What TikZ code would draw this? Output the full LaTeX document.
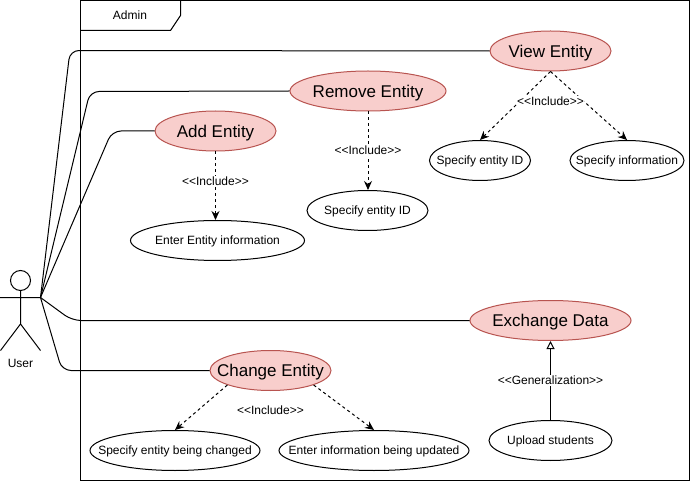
\documentclass[tikz,border=0pt]{standalone}
\usepackage{fontspec}
\setmainfont{Liberation Sans}
\usetikzlibrary{shapes.geometric,arrows.meta}
\newcommand{\tightlabel}[1]{\makebox[0pt]{#1}}
\newcommand{\gopen}{<\kern0pt<}
\newcommand{\gclose}{>\kern0pt>}
\tikzset{
  uc/.style={ellipse,draw=black,fill=white,line width=1pt,minimum height=40pt,inner sep=0pt,font=\fontsize{12}{14}\selectfont,text height=8.8pt,text depth=0pt},
  ucmain/.style={ellipse,draw=ucred,fill=ucpink,line width=1pt,minimum height=40pt,inner sep=0pt,font=\fontsize{17}{20}\selectfont,text height=12.2pt,text depth=0pt},
  assoc/.style={draw=black,line width=1pt,rounded corners=9pt},
  incl/.style={draw=black,line width=1pt,dash pattern=on 3pt off 3pt,-{Stealth[length=9pt,width=8pt,inset=3pt]}},
  gener/.style={draw=black,line width=1pt,-{Triangle[open,length=8pt,width=8pt,fill=white]}},
  lbl/.style={font=\fontsize{12}{14}\selectfont,inner xsep=0.5pt,inner ysep=1.5pt,fill=white,text height=8.8pt,text depth=0pt},
  plain/.style={font=\fontsize{12}{14}\selectfont,inner sep=0pt,text height=8.8pt,text depth=0pt},
  solid1/.style={draw=black,line width=1pt},
}
\definecolor{ucred}{HTML}{B85450}
\definecolor{ucpink}{HTML}{F8CECC}
\begin{document}
\begin{tikzpicture}[x=1pt,y=-1pt]
\useasboundingbox (0,0) rectangle (691,481);
% frame
\draw[solid1] (80.5,0.5) rectangle (689.5,480.5);
\draw[solid1] (80.5,30.5) -- (170.5,30.5) -- (180.5,15.5) -- (180.5,0.5);
\node[plain] (admin) at (130,15.5) {Admin};
% actor
\draw[solid1] (20.5,280.5) circle (10);
\draw[solid1] (20.5,290.5) -- (20.5,324) (0,297.5) -- (40.5,297.5)
  (0.5,350.5) -- (20.5,324) -- (40.5,350.5);
\node[plain] (user) at (20.5,363.5) {User};
\coordinate (act) at (40.5,297.5);
% main use cases
\node[ucmain,minimum width=121pt] (view) at (550.5,51) {\tightlabel{View Entity}};
\node[ucmain,minimum width=156pt] (remove) at (368,91) {\tightlabel{Remove Entity}};
\node[ucmain,minimum width=121pt] (add) at (215.5,131) {\tightlabel{Add Entity}};
\node[ucmain,minimum width=161pt] (exch) at (550.5,320.5) {\tightlabel{Exchange Data}};
\node[ucmain,minimum width=121pt] (change) at (270.5,370.5) {\tightlabel{Change Entity}};
% sub use cases
\node[uc,minimum width=174pt] (enter) at (217.5,240.5) {\tightlabel{Enter Entity information}};
\node[uc,minimum width=121pt] (rid) at (367.5,210.5) {\tightlabel{Specify entity ID}};
\node[uc,minimum width=101pt] (vid) at (480,160.5) {\tightlabel{Specify entity ID}};
\node[uc,minimum width=114pt] (vinfo) at (627,160.5) {\tightlabel{Specify information}};
\node[uc,minimum width=170pt] (chg) at (175,450.5) {\tightlabel{Specify entity being changed}};
\node[uc,minimum width=190pt] (upd) at (374,450.5) {\tightlabel{Enter information being updated}};
\node[uc,minimum width=123pt] (upl) at (550.5,440.5) {\tightlabel{Upload students}};
% associations
\draw[assoc] (act) -- (70,50.5) -- (view.west);
\draw[assoc] (act) -- (90,91.5) -- (remove.west);
\draw[assoc] (act) -- (112,131) -- (add.west);
\draw[assoc] (act) -- (72,320.5) -- (exch.west);
\draw[assoc] (act) -- (62,370.5) -- (change.west);
% includes
\draw[incl] (add.south) -- (add.south |- enter.north);
\draw[incl] (remove.south) -- (remove.south |- rid.north);
\draw[incl] (view.south) -- (vid.north);
\draw[incl] (view.south) -- (vinfo.north);
\draw[incl] (change.south west) -- (chg.north);
\draw[incl] (change.south east) -- (upd.north);
\draw[gener] (upl.north) -- (exch.south);
% labels
\node[lbl] (l1) at (215.5,181.5) {\gopen Include\gclose};
\node[lbl] (l2) at (368,150.5) {\gopen Include\gclose};
\node[lbl] (l3) at (550.5,101.5) {\gopen Include\gclose};
\node[lbl] (l4) at (270.5,410.5) {\gopen Include\gclose};
\node[lbl] (l5) at (550.5,380.5) {\gopen Generalization\gclose};
\end{tikzpicture}
\end{document}
